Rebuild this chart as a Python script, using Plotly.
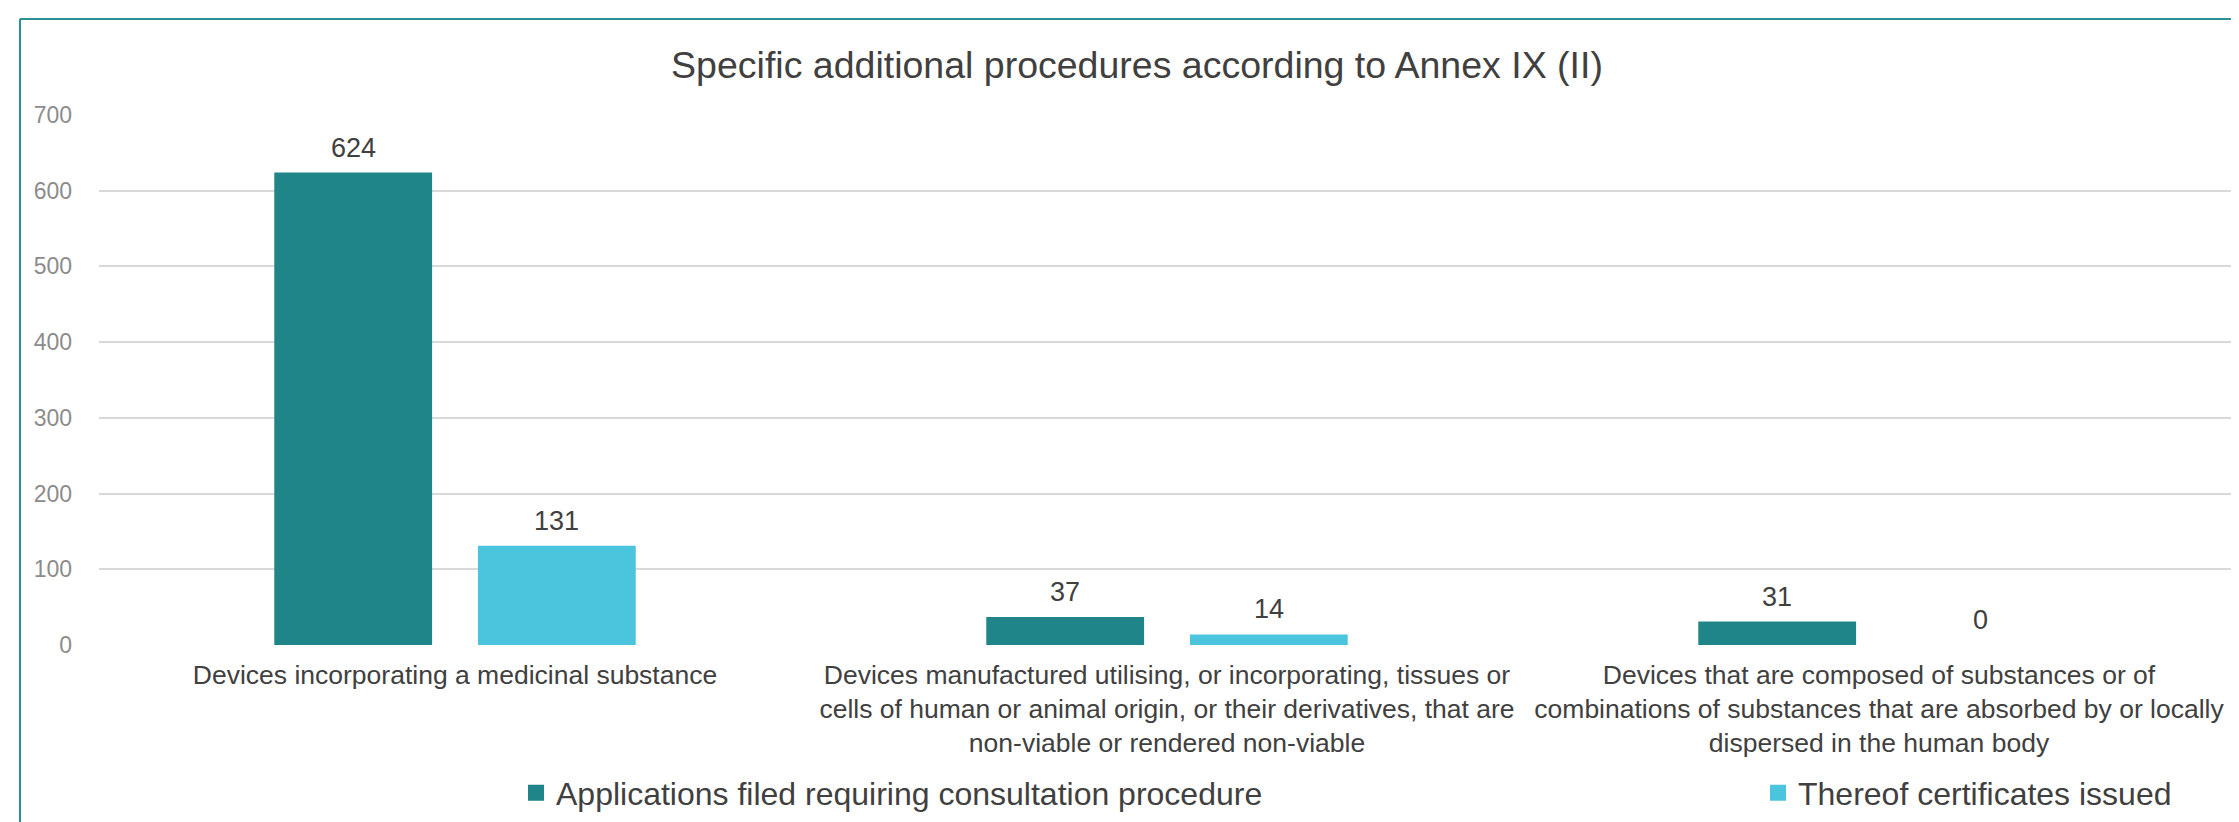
import plotly.graph_objects as go

categories = [
    "Devices incorporating a medicinal substance",
    "Devices manufactured utilising, or incorporating, tissues or<br>cells of human or animal origin, or their derivatives, that are<br>non-viable or rendered non-viable",
    "Devices that are composed of substances or of<br>combinations of substances that are absorbed by or locally<br>dispersed in the human body",
]
applications = [624, 37, 31]
certificates = [131, 14, 0]
series_names = ["Applications filed requiring consultation procedure", "Thereof certificates issued"]
y_ticks = [0, 100, 200, 300, 400, 500, 600, 700]

TEAL = "#1F8589"
LIGHT = "#4BC5DD"
FONT = "Liberation Sans, Arial, sans-serif"
W, H = 2239, 822
ML, MR, MT, MB = 91, 12, 107, 185
BARGAP, GROUPGAP = 0.428, 0.225

pw = W - ML - MR
ph = H - MT - MB
def px(xp):
    return (xp - ML) / pw
def py(yp):
    return (H - MB - yp) / ph

series = [(series_names[0], applications, TEAL, "legend"),
          (series_names[1], certificates, LIGHT, "legend2")]

fig = go.Figure()
for name, vals, col, lg in series:
    fig.add_trace(go.Bar(
        x=categories, y=vals, name=name,
        marker=dict(color=col, line=dict(width=0)),
        showlegend=False, hoverinfo="x+y+name",
    ))
    fig.add_trace(go.Scatter(
        x=[None], y=[None], mode="markers", name=name, legend=lg,
        marker=dict(symbol="square", size=17, color=col), showlegend=True,
    ))

# data labels above each bar (offset to the centre of its slot within the group)
cat_px = pw / len(categories)
slot_px = (1 - BARGAP) * cat_px / len(series)
for k, (name, vals, col, lg) in enumerate(series):
    shift = (k - (len(series) - 1) / 2) * slot_px
    for c, v in zip(categories, vals):
        fig.add_annotation(x=c, y=v, xref="x", yref="y", text=str(v), showarrow=False,
                           xanchor="center", yanchor="bottom", xshift=shift, yshift=8,
                           font=dict(family=FONT, size=27, color="#404040"))

BORDER = "#2A9196"
fig.add_shape(type="line", xref="paper", yref="paper", x0=px(12), x1=px(W + 5), y0=py(11), y1=py(11),
              line=dict(color=BORDER, width=2))
fig.add_shape(type="line", xref="paper", yref="paper", x0=px(12), x1=px(12), y0=py(11), y1=py(H + 5),
              line=dict(color=BORDER, width=2))

legend_font = dict(family=FONT, size=32, color="#404040")
fig.update_layout(
    width=W, height=H,
    margin=dict(l=ML, r=MR, t=MT, b=MB, autoexpand=False),
    paper_bgcolor="white", plot_bgcolor="white",
    font=dict(family=FONT, color="#404040"),
    title=dict(text="Specific additional procedures according to Annex IX (II)",
               x=1129 / W, xanchor="center", y=1 - 57 / H, yanchor="middle",
               font=dict(family=FONT, size=37.5, color="#404040")),
    barmode="group", bargap=BARGAP, bargroupgap=GROUPGAP,
    legend=dict(orientation="h", x=px(508), xanchor="left", y=py(785), yanchor="middle",
                font=legend_font, bgcolor="rgba(0,0,0,0)"),
    legend2=dict(orientation="h", x=px(1750), xanchor="left", y=py(785), yanchor="middle",
                 font=legend_font, bgcolor="rgba(0,0,0,0)"),
    xaxis=dict(showgrid=False, showline=False, zeroline=False, ticks="", ticklabelstandoff=11,
               tickfont=dict(family=FONT, size=26.5, color="#404040")),
    yaxis=dict(range=[0, 700], tickvals=y_ticks, showgrid=True, gridcolor="#D9D9D9", gridwidth=1.5,
               zeroline=False, showline=False, ticks="", ticklabelstandoff=26,
               tickfont=dict(family=FONT, size=23, color="#8C8C8C")),
)

fig.write_html("out.html")
